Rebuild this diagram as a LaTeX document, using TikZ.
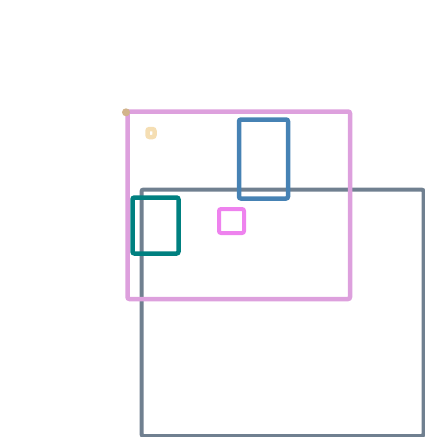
\documentclass[tikz,border=0pt]{standalone}
\definecolor{slatec}{HTML}{708090}
\definecolor{plumc}{HTML}{DDA0DD}
\definecolor{steelc}{HTML}{4682B4}
\definecolor{tealc}{HTML}{008080}
\definecolor{violetc}{HTML}{EE82EE}
\definecolor{tanc}{HTML}{D2B48C}
\definecolor{wheatc}{HTML}{F5DEB3}
\usepackage{tikz}

\begin{document}
\begin{tikzpicture}[
      x=1pt, y=-1pt,
      box/.style={draw=#1, line width=4.5pt, rounded corners=2pt,
                  inner sep=0pt, outer sep=0pt},
      dot/.style={circle, fill=#1, inner sep=0pt, minimum size=8pt}
    ]
    \useasboundingbox (0,0) rectangle (424,437);
    \node[box=slatec, line width=4pt, minimum width=282pt, minimum height=246.5pt]
      (stage) at (282.5,312.75) {};
    \node[box=plumc, minimum width=222.5pt, minimum height=187.5pt]
      (region) at (238.75,205.25) {};
    \node[box=steelc, minimum width=49pt, minimum height=79pt]
      (tall) at (263.5,159) {};
    \node[box=tealc, minimum width=46pt, minimum height=56pt]
      (left) at (155.5,225.5) {};
    \node[box=violetc, line width=4pt, minimum width=25pt, minimum height=24pt]
      (small) at (231.5,221) {};
    \node[box=wheatc, minimum width=7pt, minimum height=8pt]
      (tiny) at (151,133) {};
    \node[dot=tanc] (corner) at (126,112.3) {};
  \end{tikzpicture}
\end{document}
